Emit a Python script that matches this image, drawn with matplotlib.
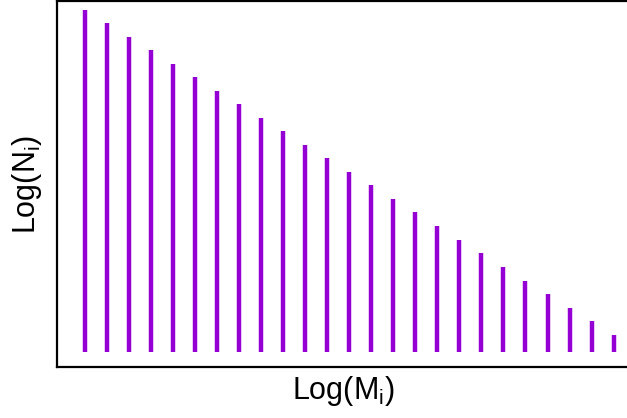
import matplotlib
matplotlib.use("Agg")
import matplotlib.pyplot as plt

plt.rcParams['font.family'] = ['Liberation Sans', 'DejaVu Sans']
plt.rcParams['mathtext.fontset'] = 'custom'
plt.rcParams['mathtext.rm'] = 'Liberation Sans'
plt.rcParams['mathtext.it'] = 'Liberation Sans'
plt.rcParams['mathtext.default'] = 'regular'

# data: bar index and bar heights (arbitrary log units)
mass_index = list(range(1, 26))
log_counts = [342, 329, 315, 302, 288, 275, 261, 248, 234, 221, 207, 194, 180,
              167, 153, 140, 126, 112, 99, 85, 71, 58, 44, 31, 17]

W, H = 627, 418
fig = plt.figure(figsize=(W / 100, H / 100), dpi=100)
ax = fig.add_axes([57 / W, (H - 367) / H, (629 - 57) / W, 366 / H])

ax.vlines(mass_index, 0, log_counts, colors='#9400D3', linewidth=3.2)

ax.set_xlim(-0.27, 25.7)
ax.set_ylim(-15, 351)
ax.set_xticks([])
ax.set_yticks([])
for s in ax.spines.values():
    s.set_linewidth(1.6)
    s.set_color('black')

ax.set_xlabel('Log(M$_i$)', fontsize=22, labelpad=5)
ax.set_ylabel('Log(N$_i$)', fontsize=22, labelpad=9)

fig.savefig('out.png', dpi=100)
